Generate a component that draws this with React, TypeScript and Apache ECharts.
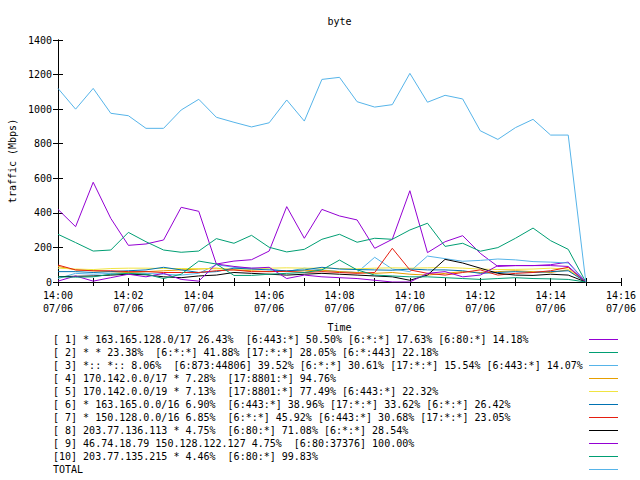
import React, { useEffect, useRef } from "react";
import * as echarts from "echarts";

const minutes = [0, 0.5, 1, 1.5, 2, 2.5, 3, 3.5, 4, 4.5, 5, 5.5, 6, 6.5, 7, 7.5, 8, 8.5, 9, 9.5, 10, 10.5, 11, 11.5, 12, 12.5, 13, 13.5, 14, 14.5, 15];
const xTickLabels = ["14:00", "14:02", "14:04", "14:06", "14:08", "14:10", "14:12", "14:14", "14:16"];
const dateLabel = "07/06";

const s1 = [420, 320, 577, 368, 212, 220, 243, 432, 409, 104, 121, 129, 179, 436, 253, 420, 382, 359, 195, 247, 528, 170, 233, 268, 166, 90, 95, 95, 100, 115, 0];
const s2 = [276, 228, 179, 185, 287, 233, 185, 172, 179, 251, 224, 270, 201, 174, 189, 247, 276, 230, 253, 247, 301, 340, 206, 224, 178, 199, 253, 312, 239, 189, 0];
const s3 = [20, 50, 45, 50, 55, 50, 45, 40, 50, 100, 85, 80, 75, 60, 80, 70, 60, 55, 143, 75, 60, 150, 135, 120, 125, 133, 128, 118, 115, 110, 0];
const s4 = [90, 70, 65, 60, 55, 60, 65, 70, 75, 80, 70, 65, 60, 62, 65, 68, 60, 55, 50, 55, 45, 40, 50, 60, 55, 60, 65, 60, 55, 70, 0];
const s5 = [80, 75, 72, 78, 80, 80, 78, 78, 78, 76, 75, 74, 80, 82, 80, 80, 78, 76, 80, 82, 80, 82, 84, 80, 75, 72, 73, 75, 80, 75, 0];
const s6 = [60, 60, 55, 60, 65, 70, 85, 70, 55, 60, 80, 75, 70, 65, 70, 85, 75, 72, 70, 68, 75, 70, 70, 65, 50, 55, 60, 55, 60, 65, 0];
const s7 = [98, 70, 65, 65, 60, 60, 55, 55, 55, 65, 70, 60, 60, 62, 55, 60, 55, 50, 55, 195, 70, 50, 40, 55, 70, 40, 50, 55, 65, 85, 0];
const s8 = [31, 33, 35, 40, 45, 42, 30, 25, 35, 40, 55, 50, 45, 40, 45, 50, 45, 40, 35, 30, 10, 40, 131, 110, 80, 50, 40, 38, 45, 40, 0];
const s9 = [5, 35, 5, 25, 45, 30, 50, 15, 5, 104, 90, 80, 85, 20, 40, 30, 25, 20, 10, 0, 0, 50, 60, 30, 40, 95, 95, 95, 95, 90, 0];
const s10 = [30, 28, 30, 45, 50, 45, 20, 45, 121, 104, 38, 38, 45, 50, 55, 70, 127, 70, 40, 35, 30, 30, 25, 20, 15, 20, 25, 20, 18, 15, 0];
const total = [1120, 1000, 1120, 976, 962, 889, 889, 995, 1057, 953, 924, 897, 921, 1053, 931, 1172, 1184, 1043, 1012, 1026, 1207, 1040, 1080, 1059, 875, 825, 893, 941, 850, 850, 0];

const seriesLabels = [
  "[ 1] * 163.165.128.0/17 26.43%  [6:443:*] 50.50% [6:*:*] 17.63% [6:80:*] 14.18%",
  "[ 2] * * 23.38%  [6:*:*] 41.88% [17:*:*] 28.05% [6:*:443] 22.18%",
  "[ 3] *:: *:: 8.06%  [6:873:44806] 39.52% [6:*:*] 30.61% [17:*:*] 15.54% [6:443:*] 14.07%",
  "[ 4] 170.142.0.0/17 * 7.28%  [17:8801:*] 94.76%",
  "[ 5] 170.142.0.0/19 * 7.13%  [17:8801:*] 77.49% [6:443:*] 22.32%",
  "[ 6] * 163.165.0.0/16 6.90%  [6:443:*] 38.96% [17:*:*] 33.62% [6:*:*] 26.42%",
  "[ 7] * 150.128.0.0/16 6.85%  [6:*:*] 45.92% [6:443:*] 30.68% [17:*:*] 23.05%",
  "[ 8] 203.77.136.113 * 4.75%  [6:80:*] 71.08% [6:*:*] 28.54%",
  "[ 9] 46.74.18.79 150.128.122.127 4.75%  [6:80:37376] 100.00%",
  "[10] 203.77.135.215 * 4.46%  [6:80:*] 99.83%",
  "TOTAL",
];
const colors = ["#9400d3", "#009e73", "#56b4e9", "#e69f00", "#f0e442", "#0072b2", "#e51e10", "#000000", "#9400d3", "#009e73", "#56b4e9"];
const seriesValues = [s1, s2, s3, s4, s5, s6, s7, s8, s9, s10, total];

const FONT = "'DejaVu Sans Mono', 'Liberation Mono', monospace";

export default function App() {
  const ref = useRef<HTMLDivElement>(null);
  useEffect(() => {
    if (!ref.current) return;
    const chart = echarts.init(ref.current, null, { renderer: "svg" });
    const series = seriesValues.map((vals, i) => ({
      type: "line",
      name: seriesLabels[i],
      data: vals.map((v, j) => [minutes[j], v]),
      symbol: "none",
      showSymbol: false,
      silent: true,
      lineStyle: { width: 1, color: colors[i] },
      itemStyle: { color: colors[i] },
      xAxisIndex: 0,
      yAxisIndex: 0,
    }));
    const graphic: any[] = [];
    seriesLabels.forEach((t, i) => {
      const y = 339.5 + 13 * i;
      graphic.push({
        type: "text",
        x: 53,
        y,
        style: { text: t.replace(/ /g, "\u00a0"), fontFamily: FONT, fontSize: 10, fill: "#000", verticalAlign: "middle", align: "left" },
      });
      graphic.push({
        type: "line",
        shape: { x1: 589, y1: y, x2: 618, y2: y },
        style: { stroke: colors[i], lineWidth: 1 },
      });
    });
    graphic.push({
      type: "text", x: 339.5, y: 21,
      style: { text: "byte", fontFamily: FONT, fontSize: 10, fill: "#000", verticalAlign: "middle", align: "center" },
    });
    graphic.push({
      type: "text", x: 339.5, y: 327,
      style: { text: "Time", fontFamily: FONT, fontSize: 10, fill: "#000", verticalAlign: "middle", align: "center" },
    });
    graphic.push({
      type: "text", x: 12, y: 161, rotation: Math.PI / 2,
      style: { text: "traffic\u00a0(Mbps)", fontFamily: FONT, fontSize: 10, fill: "#000", verticalAlign: "middle", align: "center" },
    });
    const axisLine = { show: true, lineStyle: { color: "#000", width: 1 } };
    const xBase = {
      type: "value",
      min: 0,
      max: 16,
      interval: 1,
      axisLine,
      axisTick: { show: true, inside: true, length: 4, lineStyle: { color: "#000", width: 1 } },
      splitLine: { show: false },
    };
    const yBase = {
      type: "value",
      min: 0,
      max: 1400,
      interval: 200,
      axisLine,
      axisTick: { show: true, inside: true, length: 5, lineStyle: { color: "#000", width: 1 } },
      splitLine: { show: false },
    };
    chart.setOption({
      animation: false,
      backgroundColor: "#fff",
      grid: { left: 58, right: 19, top: 40, bottom: 198, containLabel: false },
      xAxis: [
        {
          ...xBase,
          position: "bottom",
          axisLabel: {
            show: true,
            fontFamily: FONT,
            fontSize: 10,
            color: "#000",
            lineHeight: 13,
            margin: 7,
            showMinLabel: true,
            showMaxLabel: true,
            formatter: (v: number) => (v % 2 === 0 ? xTickLabels[v / 2] + "\n" + dateLabel : ""),
          },
        },
        { ...xBase, position: "top", axisLabel: { show: false } },
      ],
      yAxis: [
        {
          ...yBase,
          position: "left",
          axisLabel: {
            show: true,
            fontFamily: FONT,
            fontSize: 10,
            color: "#000",
            margin: 6,
            formatter: (v: number) => String(v),
          },
        },
        { ...yBase, position: "right", axisLabel: { show: false } },
      ],
      series,
      graphic,
    });
    return () => chart.dispose();
  }, []);
  return (
    <div
      ref={ref}
      style={{ position: "absolute", left: 0, top: 0, width: 640, height: 480, background: "#fff" }}
    />
  );
}
